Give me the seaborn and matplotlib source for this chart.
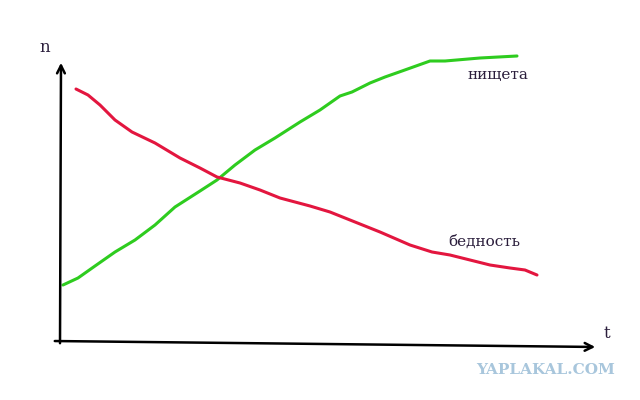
import numpy as np
import pandas as pd
import matplotlib
matplotlib.use("Agg")
import matplotlib.pyplot as plt
import seaborn as sns

#%% data (t to the right, n upward)
green_t = [2, 17, 34, 54, 74, 94, 114, 139, 156, 174, 194, 214, 239, 259, 279, 291,
           309, 324, 341, 369, 384, 419, 456]
green_n = [56, 63, 75, 89, 101, 116, 134, 150, 161, 176, 191, 203, 219, 231, 245, 249,
           258, 264, 270, 280, 280, 283, 285]

red_t = [15, 27, 39, 54, 71, 94, 119, 139, 156, 179, 199, 219, 249, 269, 289, 319,
         349, 371, 389, 409, 429, 449, 464, 476]
red_n = [252, 246, 236, 221, 209, 198, 183, 173, 164, 158, 151, 143, 135, 129, 121, 109,
         96, 89, 86, 81, 76, 73, 71, 66]

poverty_label = "бедность"
misery_label = "нищета"

#%% plot
sns.set_style("white")
plt.rcParams['font.family'] = ['DejaVu Serif']

fig = plt.figure(figsize=(6.4, 4.0), dpi=100)
ax = fig.add_axes([0, 0, 1, 1])

green_df = pd.DataFrame({"t": green_t, "n": green_n})
red_df = pd.DataFrame({"t": red_t, "n": red_n})
sns.lineplot(data=green_df, x="t", y="n", sort=False, color="#2ecc1f", linewidth=2.2, ax=ax)
sns.lineplot(data=red_df, x="t", y="n", sort=False, color="#e3163f", linewidth=2.2, ax=ax)

ax.set_xlim(-61, 579)
ax.set_ylim(-59, 341)
ax.axis("off")

# hand-drawn looking axes
ax.annotate("", xy=(0, 281), xytext=(-1, -5),
            arrowprops=dict(arrowstyle="->", color="black", lw=1.8, mutation_scale=14))
ax.annotate("", xy=(537, -6), xytext=(-9, 0),
            arrowprops=dict(arrowstyle="->", color="black", lw=1.8, mutation_scale=14))

txt_color = "#2b1e3c"
ax.text(-16, 294, "n", fontsize=12, color=txt_color, ha="center", va="center")
ax.text(546, 8, "t", fontsize=12, color=txt_color, ha="center", va="center")
ax.text(437, 266, misery_label, fontsize=11, color=txt_color, ha="center", va="center")
ax.text(423, 99, poverty_label, fontsize=11, color=txt_color, ha="center", va="center")

fig.text(0.853, 0.075, "YAPLAKAL.COM", fontsize=11, fontweight="bold",
         color="#a8c6dc", ha="center", va="center")

fig.savefig("out.png", dpi=100)
